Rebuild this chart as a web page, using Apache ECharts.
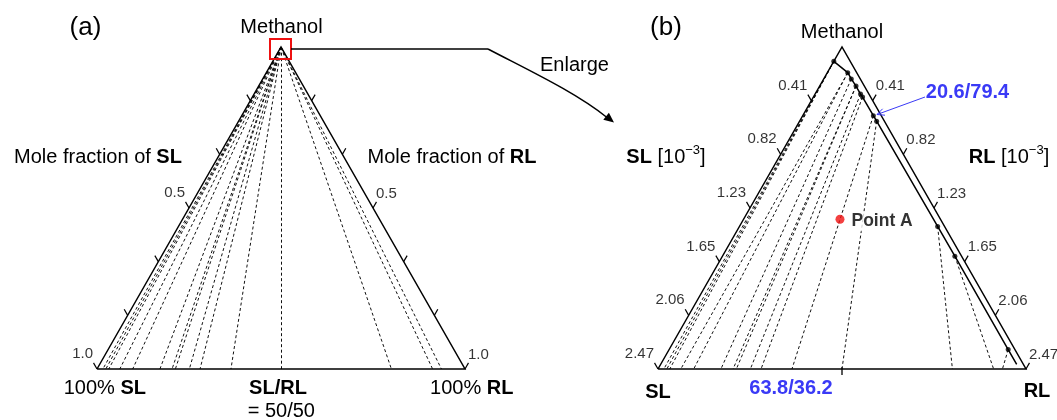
<!DOCTYPE html>
<html><head><meta charset="utf-8">
<script src="https://cdn.jsdelivr.net/npm/echarts@6/dist/echarts.min.js"></script>
<style>html,body{margin:0;padding:0;background:#fff}#c{width:1057px;height:420px}</style>
</head><body><div id="c"></div><script>
// ---------------- data ----------------
// tie-line end points on the SL–RL base, given as RL share of (SL+RL)
const tieBaseRL = [0.016, 0.024, 0.032, 0.062, 0.097, 0.171, 0.204, 0.213, 0.251, 0.280, 0.364, 0.500, 0.800, 0.912, 0.936];
// phase-boundary points (panel b), mole fractions in 10^-3
const boundarySL = [0.110, 0.060, 0.060, 0.056, 0.056, 0.054, 0.053, 0.052, 0.046, 0.045, 0.045, 0.045];
const boundaryRL = [0.000, 0.137, 0.185, 0.244, 0.305, 0.330, 0.474, 0.517, 1.330, 1.560, 2.276, 2.390];
const dotCount = 11;                 // boundary points drawn as dots
const tieFromDot = [0, 0, 0, 1, 1, 2, 3, 3, 4, 5, 6, 7, 8, 9, 10];
const pointA_SL = 0.674, pointA_RL = 0.647;   // 10^-3
const ticksA = ['', '', '0.5', '', '', '1.0'];
const ticksB = ['0.41', '0.82', '1.23', '1.65', '2.06', '2.47'];
const scaleB = 2.47;                 // full scale of panel b, 10^-3

// ---------------- helpers ----------------
const F = "'Liberation Sans', Arial, Helvetica, sans-serif";
const TL = 0.0189;                   // tick length in axis units
function tern(sl, rl) { const m = 1 - sl - rl; return [rl + m / 2, m]; }

const outline = [tern(1, 0), tern(0, 1), tern(0, 0), tern(1, 0)];
const curveB = boundarySL.map((s, i) => tern(s / scaleB, boundaryRL[i] / scaleB));
const dotsB = curveB.slice(0, dotCount);
const tiesA = tieBaseRL.map((f, i) => {
  const d = tieFromDot[i];
  return { coords: [tern(boundarySL[d] * 1e-3, boundaryRL[d] * 1e-3), tern(1 - f, f)] };
});
const tiesB = tieBaseRL.map((f, i) => ({ coords: [dotsB[tieFromDot[i]], tern(1 - f, f)] }));
function tickSegs(n) {
  const segs = [];
  for (let k = 1; k <= n; k++) {
    const p = tern(k / n, 0); segs.push({ coords: [p, [p[0] - 0.5 * TL, p[1] + TL]] });
    const q = tern(0, k / n); segs.push({ coords: [q, [q[0] + 0.5 * TL, q[1] + TL]] });
  }
  return segs;
}
function tickLabels(arr, side) {
  const out = [];
  arr.forEach((t, k) => {
    if (!t) return;
    const v = (k + 1) / arr.length;
    out.push({ value: side === 'L' ? tern(v, 0) : tern(0, v), name: t });
  });
  return out;
}

const series = [];
[0, 1].forEach(g => {
  const ticks = g === 0 ? ticksA : ticksB;
  series.push({ type: 'lines', coordinateSystem: 'cartesian2d', xAxisIndex: g, yAxisIndex: g, silent: true, clip: false, z: 2,
    data: g === 0 ? tiesA : tiesB,
    lineStyle: { color: '#111', width: 1, type: [3, 2.5], opacity: 1, curveness: 0 } });
  series.push({ type: 'line', xAxisIndex: g, yAxisIndex: g, data: outline, symbol: 'none', clip: false, silent: true, z: 5,
    lineStyle: { color: '#000', width: 1.5, join: 'miter' } });
  series.push({ type: 'lines', coordinateSystem: 'cartesian2d', xAxisIndex: g, yAxisIndex: g, silent: true, clip: false, z: 5,
    data: tickSegs(6), lineStyle: { color: '#000', width: 1.2, opacity: 1, curveness: 0 } });
  series.push({ type: 'scatter', xAxisIndex: g, yAxisIndex: g, silent: true, symbolSize: 0, z: 6,
    data: tickLabels(ticks, 'L'),
    label: { show: true, position: 'left', distance: 4, offset: [0, -15], formatter: '{b}', fontSize: 15, fontFamily: F, color: '#000' } });
  series.push({ type: 'scatter', xAxisIndex: g, yAxisIndex: g, silent: true, symbolSize: 0, z: 6,
    data: tickLabels(ticks, 'R'),
    label: { show: true, position: 'right', distance: 3, offset: [0, -14.5], formatter: '{b}', fontSize: 15, fontFamily: F, color: '#000' } });
});
// panel b extras
series.push({ type: 'line', xAxisIndex: 1, yAxisIndex: 1, data: curveB, symbol: 'none', clip: false, silent: true, z: 5,
  lineStyle: { color: '#000', width: 1.5 } });
series.push({ type: 'scatter', xAxisIndex: 1, yAxisIndex: 1, data: dotsB, symbolSize: 5, silent: true, z: 7,
  itemStyle: { color: '#000' } });
series.push({ type: 'lines', coordinateSystem: 'cartesian2d', xAxisIndex: 1, yAxisIndex: 1, silent: true, clip: false, z: 5,
  data: [{ coords: [[0.5, -0.0186], [0.5, 0.0062]] }], lineStyle: { color: '#222', width: 1.5, opacity: 1 } });
series.push({ type: 'scatter', xAxisIndex: 1, yAxisIndex: 1, silent: true, z: 10, symbolSize: 9,
  data: [{ value: tern(pointA_SL / scaleB, pointA_RL / scaleB), name: 'Point A' }],
  itemStyle: { color: '#f01010' },
  label: { show: true, position: 'right', distance: 5, offset: [0, 2], formatter: '{b}', fontSize: 17.5, fontWeight: 'bold',
    fontFamily: F, color: '#000', backgroundColor: '#fff', padding: [1, 2] } });

// ---------------- annotations ----------------
const BLUE = '#3a3af6';
function T(x, y, text, size, opt) {
  opt = opt || {};
  return { type: 'text', x, y, z: 100, style: {
    text, fontSize: size, fontFamily: F, fontWeight: opt.bold ? 'bold' : 'normal', fill: opt.color || '#000',
    align: 'center', verticalAlign: 'middle', lineHeight: 26,
    rich: {
      b: { fontSize: size, fontFamily: F, fontWeight: 'bold', fill: opt.color || '#000', lineHeight: 26 },
      s: { fontSize: 13, fontFamily: F, fill: '#000', verticalAlign: 'top', lineHeight: 14 }
    } } };
}
const graphic = [
  T(85.5, 28, '(a)', 26),
  T(281.5, 27, 'Methanol', 20),
  T(574.5, 65.5, 'Enlarge', 20),
  T(98, 157, 'Mole fraction of {b|SL}', 20),
  T(452, 157, 'Mole fraction of {b|RL}', 20),
  T(104.8, 388, '100% {b|SL}', 20),
  T(278, 388, '{b|SL/RL}', 20),
  T(281.3, 411.5, '= 50/50', 20),
  T(471.7, 388, '100% {b|RL}', 20),
  T(666, 28, '(b)', 26),
  T(842, 32.5, 'Methanol', 20),
  T(666, 157, '{b|SL} [10{s|\u22123}]', 20),
  T(1009, 157, '{b|RL} [10{s|\u22123}]', 20),
  T(658, 392, '{b|SL}', 20),
  T(1037, 391, '{b|RL}', 20),
  T(967.5, 92.5, '20.6/79.4', 20, { bold: true, color: BLUE }),
  T(791, 388.5, '63.8/36.2', 20, { bold: true, color: BLUE }),
  // red box around the apex of (a)
  { type: 'rect', z: 90, shape: { x: 270, y: 39, width: 21, height: 20 }, style: { fill: 'none', stroke: '#ee1111', lineWidth: 2 } },
  // connector + arrow
  { type: 'polyline', z: 90, shape: { points: [[291, 49], [488, 49]] }, style: { stroke: '#000', lineWidth: 1.5, fill: 'none' } },
  { type: 'bezierCurve', z: 90, shape: { x1: 488, y1: 49, cpx1: 530, cpy1: 71, cpx2: 575, cpy2: 92, x2: 607, y2: 117.5 },
    style: { stroke: '#000', lineWidth: 1.5, fill: 'none' } },
  { type: 'polygon', z: 90, shape: { points: [[614, 122.5], [603.3, 119.8], [608.9, 112.8]] }, style: { fill: '#000' } },
  // blue pointer
  { type: 'polyline', z: 90, shape: { points: [[925, 97], [877, 114.5]] }, style: { stroke: BLUE, lineWidth: 1, fill: 'none' } },
  { type: 'polyline', z: 90, shape: { points: [[885, 115.2], [877, 114.5], [882.6, 108.8]] }, style: { stroke: BLUE, lineWidth: 1, fill: 'none' } }
];

const chart = echarts.init(document.getElementById('c'), null, { renderer: 'canvas' });
chart.setOption({
  animation: false,
  backgroundColor: '#fff',
  grid: [
    { left: 97, top: 47, width: 368, height: 322 },
    { left: 658, top: 47, width: 368, height: 322 }
  ],
  xAxis: [0, 1].map(g => ({ type: 'value', gridIndex: g, min: 0, max: 1, show: false })),
  yAxis: [0, 1].map(g => ({ type: 'value', gridIndex: g, min: 0, max: 1, show: false })),
  series,
  graphic
});
</script></body></html>
